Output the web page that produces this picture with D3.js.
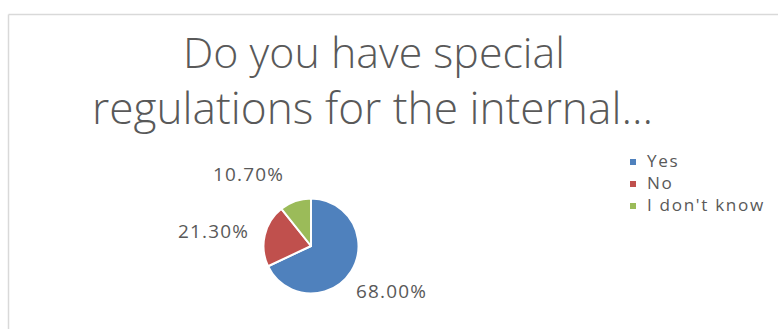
<!DOCTYPE html>
<html>
<head>
<meta charset="utf-8">
<script src="https://cdn.jsdelivr.net/npm/d3@7"></script>
<style>
  html, body { margin: 0; padding: 0; background: #fff; }
  svg { display: block; }
</style>
</head>
<body>
<svg id="chart" width="778" height="329"></svg>
<script>
// Survey answers, share of respondents (percent)
const categories = ["Yes", "No", "I don't know"];
const values = [68.0, 21.3, 10.7];
const colors = ["#4f81bd", "#c0504d", "#9bbb59"];
const titleLines = ["Do you have special", "regulations for the internal..."];

const svg = d3.select("#chart");
const W = 778, H = 329;
const titleFont = "'Open Sans', 'Liberation Sans', sans-serif";
const bodyFont = "'Open Sans', 'Liberation Sans', sans-serif";
const textColor = "#595959";

// chart frame (top and left edges visible)
svg.append("line").attr("x1", 8.5).attr("x2", W).attr("y1", 14.5).attr("y2", 14.5)
  .attr("stroke", "#d9d9d9").attr("stroke-width", 1.5);
svg.append("line").attr("x1", 8.5).attr("x2", 8.5).attr("y1", 14.5).attr("y2", H)
  .attr("stroke", "#d9d9d9").attr("stroke-width", 1.5);

// scale a text node's font size so it spans the given width
function fitWidth(sel, width) {
  const fs = parseFloat(sel.attr("font-size"));
  const w = sel.node().getComputedTextLength();
  const nfs = fs * width / w;
  sel.attr("font-size", nfs.toFixed(2));
  return nfs;
}
// open up letter spacing so a text node spans the given width
function spreadTo(sel, width) {
  const w = sel.node().getComputedTextLength();
  const n = sel.text().length;
  const ls = Math.max(0, (width - w) / n);
  sel.attr("letter-spacing", ls.toFixed(2));
  return ls;
}

// title
const titleSpec = [
  { cx: 374, y: 68, w: 382 },
  { cx: 372.5, y: 124, w: 561 }
];
titleLines.forEach((t, i) => {
  const s = svg.append("text")
    .attr("x", titleSpec[i].cx).attr("y", titleSpec[i].y)
    .attr("text-anchor", "middle")
    .attr("font-family", titleFont).attr("font-weight", 300).attr("font-size", 36)
    .attr("fill", textColor)
    .text(t);
  fitWidth(s, titleSpec[i].w);
});

// pie
const cx = 311, cy = 246, r = 47.5;
const pie = d3.pie().sort(null).value(d => d)(values);
const arc = d3.arc().innerRadius(0).outerRadius(r);
const g = svg.append("g").attr("transform", `translate(${cx},${cy})`);
g.selectAll("path").data(pie).join("path")
  .attr("d", arc)
  .attr("fill", (d, i) => colors[i])
  .attr("stroke", "#fff").attr("stroke-width", 2)
  .attr("stroke-linejoin", "round");

// data labels
const fmt = v => v.toFixed(2) + "%";
const labelPos = [
  { x: 391, y: 298 },
  { x: 213, y: 238 },
  { x: 248, y: 181 }
];
values.forEach((v, i) => {
  const s = svg.append("text")
    .attr("x", labelPos[i].x).attr("y", labelPos[i].y)
    .attr("text-anchor", "middle")
    .attr("font-family", bodyFont).attr("font-size", 16)
    .attr("fill", textColor)
    .text(fmt(v));
  fitWidth(s, 64);
  const ls = spreadTo(s, 71);
  s.attr("x", labelPos[i].x + ls / 2);
});

// legend
const legendY = d3.scaleBand().domain(categories).range([151, 217]);
const lg = svg.append("g");
categories.forEach((c, i) => {
  const y = legendY(c) + legendY.bandwidth() / 2;
  lg.append("rect").attr("x", 630).attr("y", y - 3).attr("width", 6).attr("height", 6)
    .attr("fill", colors[i]);
  lg.append("text").attr("x", 647).attr("y", y + 5)
    .attr("font-family", bodyFont).attr("font-size", 15)
    .attr("fill", textColor)
    .text(c);
});
// size and spacing taken from the longest entry, applied to all entries
const longest = lg.selectAll("text").filter((d, i) => i === 2);
const fsL = fitWidth(longest, 98);
const ls = spreadTo(longest, 118);
lg.selectAll("text").attr("font-size", fsL.toFixed(2)).attr("letter-spacing", ls.toFixed(2));
</script>
</body>
</html>
